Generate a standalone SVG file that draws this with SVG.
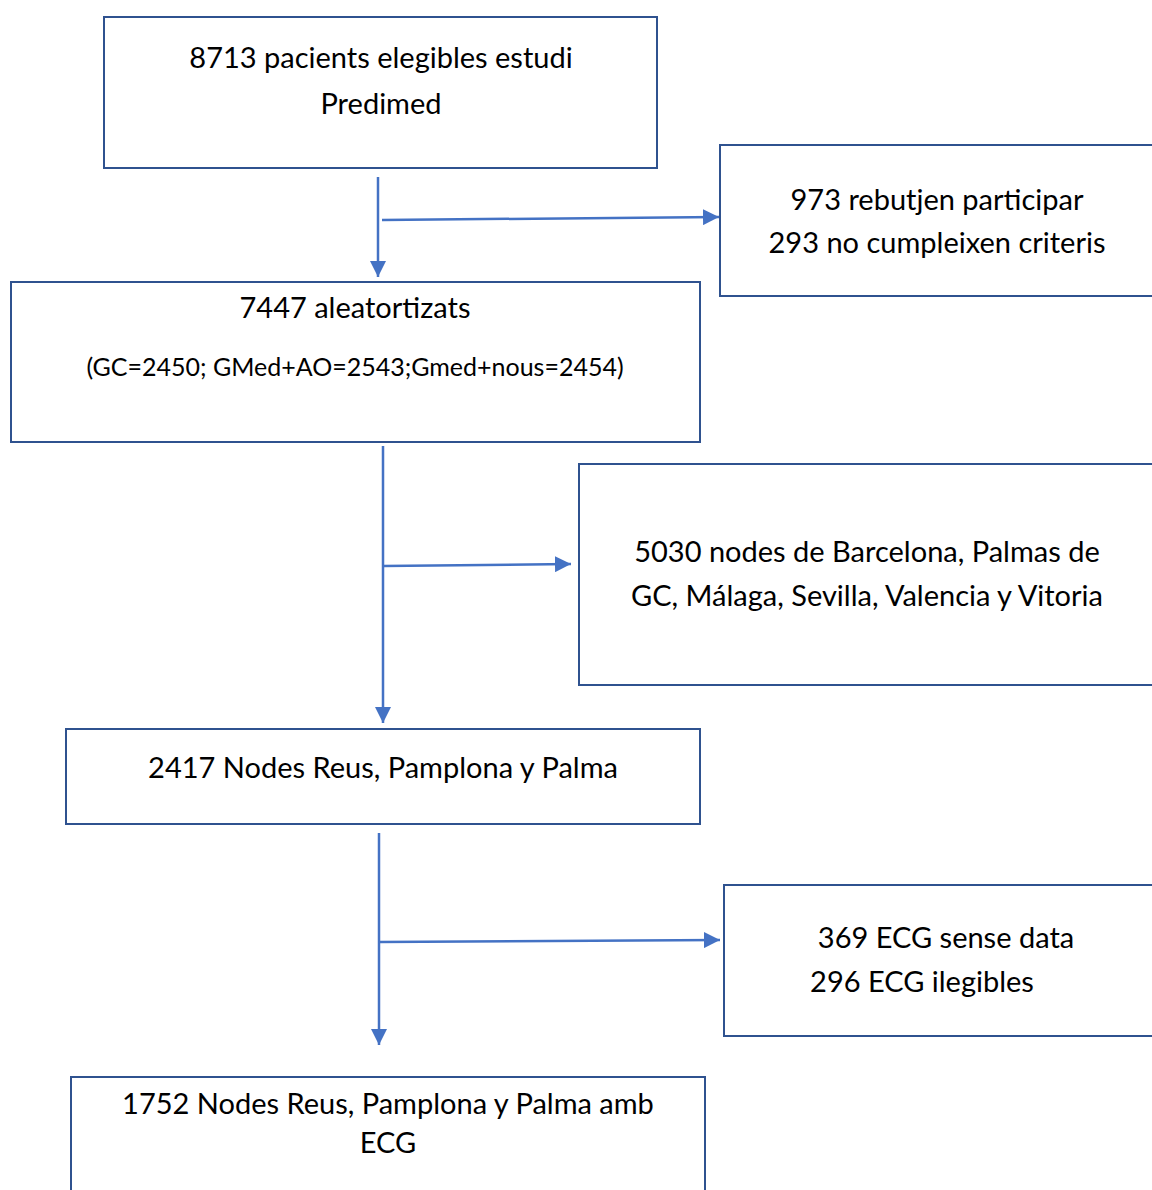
<svg xmlns="http://www.w3.org/2000/svg" width="1152" height="1190" viewBox="0 0 1152 1190">
<style>
.box{fill:#fff;stroke:#2F528F;stroke-width:2}
.t{font-family:Lato,"Open Sans","Liberation Sans",sans-serif;font-size:29px;fill:#000;text-anchor:middle}
.s{font-size:25px}
.c{stroke:#4472C4;stroke-width:2.5;fill:none}
</style>
<defs>
<marker id="a" viewBox="0 0 16 16" refX="16" refY="8" markerWidth="16" markerHeight="16" markerUnits="userSpaceOnUse" orient="auto">
<path d="M0,0 L16,8 L0,16 z" fill="#4472C4"/>
</marker>
</defs>
<rect width="1152" height="1190" fill="#fff"/>
<g id="connectors">
<line class="c" x1="378" y1="177" x2="378" y2="277" marker-end="url(#a)"/>
<line class="c" x1="382" y1="220" x2="719" y2="217" marker-end="url(#a)"/>
<line class="c" x1="383" y1="446" x2="383" y2="723" marker-end="url(#a)"/>
<line class="c" x1="383" y1="566" x2="571" y2="564" marker-end="url(#a)"/>
<line class="c" x1="379" y1="833" x2="379" y2="1045" marker-end="url(#a)"/>
<line class="c" x1="379" y1="942" x2="720" y2="940" marker-end="url(#a)"/>
</g>
<g id="n1">
<rect class="box" x="104" y="17" width="553" height="151"/>
<text class="t" x="381" y="68">8713 pacients elegibles estudi</text>
<text class="t" x="381" y="114">Predimed</text>
</g>
<g id="n2">
<rect class="box" x="720" y="145" width="440" height="151"/>
<text class="t" x="937" y="210">973 rebutjen participar</text>
<text class="t" x="937" y="253">293 no cumpleixen criteris</text>
</g>
<g id="n3">
<rect class="box" x="11" y="282" width="689" height="160"/>
<text class="t" x="355" y="318">7447 aleatortizats</text>
<text class="t s" x="355" y="376">(GC=2450; GMed+AO=2543;Gmed+nous=2454)</text>
</g>
<g id="n4">
<rect class="box" x="579" y="464" width="580" height="221"/>
<text class="t" x="867" y="562">5030 nodes de Barcelona, Palmas de</text>
<text class="t" x="867" y="606">GC, Málaga, Sevilla, Valencia y Vitoria</text>
</g>
<g id="n5">
<rect class="box" x="66" y="729" width="634" height="95"/>
<text class="t" x="383" y="778">2417 Nodes Reus, Pamplona y Palma</text>
</g>
<g id="n6">
<rect class="box" x="724" y="885" width="436" height="151"/>
<text class="t" x="946" y="948">369 ECG sense data</text>
<text class="t" x="922" y="992">296 ECG ilegibles</text>
</g>
<g id="n7">
<rect class="box" x="71" y="1077" width="634" height="130"/>
<text class="t" x="388" y="1114">1752 Nodes Reus, Pamplona y Palma amb</text>
<text class="t" x="388" y="1153">ECG</text>
</g>
</svg>
